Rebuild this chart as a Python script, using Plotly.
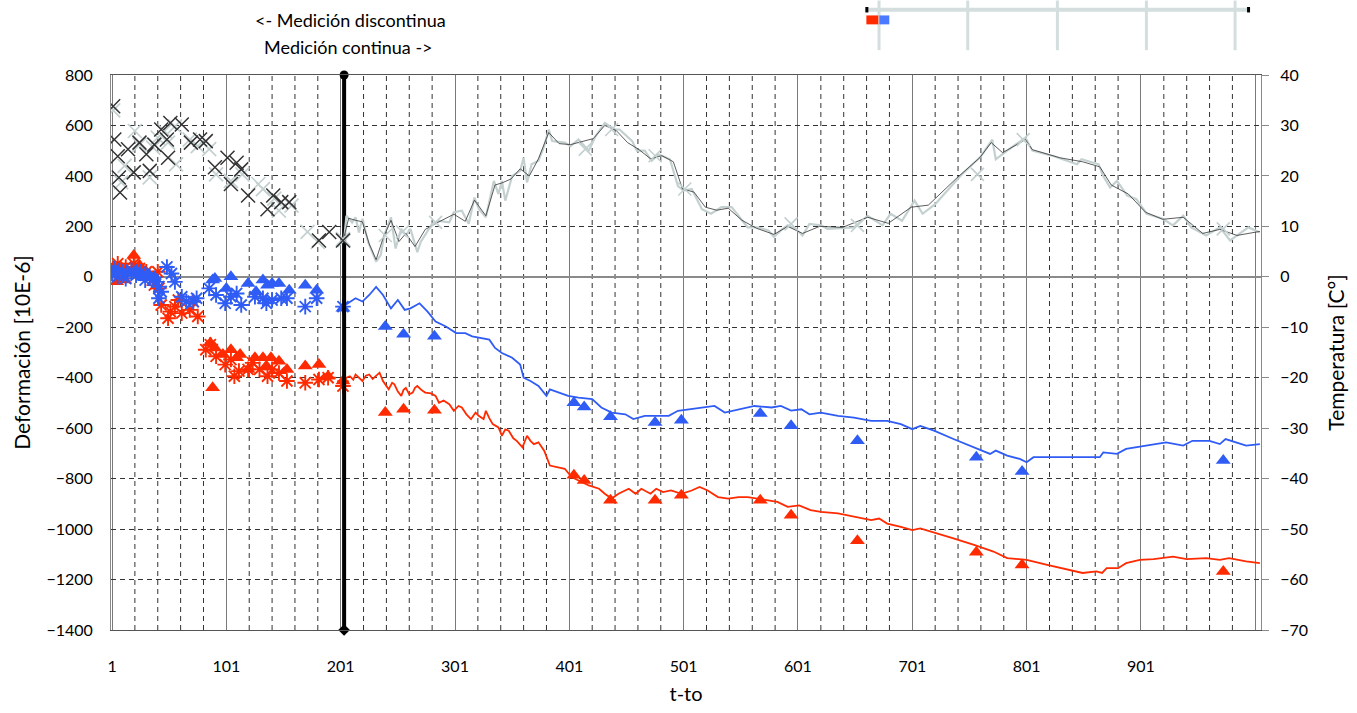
import plotly.graph_objects as go

# ---------------- DATA ----------------
x_tickvals = [1, 101, 201, 301, 401, 501, 601, 701, 801, 901, 1001]
x_ticktext = ["1", "101", "201", "301", "401", "501", "601", "701", "801", "901", ""]
x_minor_grid = [v for v in range(21, 1006, 20) if (v - 1) % 100 != 0]
vline_x = 204

# discontinuous temperature (two sensors)
temp_disc_dark_x = [2, 3, 6, 7, 8, 15, 20, 25, 31, 34, 38, 44, 49, 50, 52, 62, 70, 78, 83, 91,
                    102, 105, 110, 114, 120, 137, 142, 149, 156, 182, 191, 203]
temp_disc_dark_y = [33.8, 27.2, 23.9, 19.7, 16.7, 25.3, 20.7, 26.6, 24.3, 21.0, 26.2, 29.2, 27.2, 23.6, 30.5,
                    30.2, 26.6, 27.2, 26.9, 21.7, 23.6, 18.4, 22.6, 21.3, 16.1, 13.4, 16.1, 14.8, 14.8, 7.2, 8.9, 7.2]
temp_disc_light_x = [2, 9, 12, 21, 25, 34, 37, 41, 47, 50, 56, 57, 69, 76, 86, 92, 105, 115, 129, 133,
                     143, 147, 158, 172, 181, 203]
temp_disc_light_y = [33.0, 18.7, 22.0, 28.9, 26.2, 19.7, 25.6, 27.6, 28.9, 26.6, 29.8, 22.3, 27.2, 25.9, 25.3,
                     20.3, 19.0, 20.3, 18.4, 17.4, 15.5, 13.1, 14.1, 8.9, 6.9, 7.5]

# continuous temperature (light sensor)
temp_light_x = [204, 206, 211, 214, 217, 220, 225, 232, 236, 239, 245, 249, 254, 258, 262, 268, 271, 281, 287,
                296, 300, 307, 313, 318, 322, 328, 335, 339, 342, 345, 351, 358, 361, 364, 368, 374, 379, 383,
                386, 397, 402, 409, 418, 424, 432, 441, 445, 456, 460, 467, 473, 479, 489, 496, 501, 508, 517,
                525, 534, 543, 551, 557, 566, 575, 580, 586, 592, 599, 605, 611, 621, 627, 650, 662, 675, 682,
                692, 703, 710, 721, 743, 761, 771, 774, 784, 800, 806, 825, 845, 849, 864, 868, 874, 880, 889,
                897, 906, 920, 929, 938, 945, 958, 970, 979, 987, 995, 1005]
temp_light_y = [7.2, 12.1, 10.8, 11.8, 8.8, 11.5, 6.9, 3.0, 4.3, 8.2, 11.8, 5.6, 9.5, 8.2, 9.5, 4.9, 6.9, 10.5, 11.1,
                10.8, 12.8, 13.1, 10.5, 15.7, 13.4, 11.8, 19.0, 16.4, 19.0, 15.1, 20.0, 21.0, 23.6, 18.7, 22.3, 23.0,
                25.9, 29.2, 26.9, 26.6, 25.9, 27.2, 25.0, 27.9, 30.5, 29.2, 29.2, 26.9, 25.0, 25.0, 23.0, 24.3, 23.3,
                18.0, 17.1, 17.4, 13.4, 12.5, 13.8, 13.8, 11.5, 9.8, 9.8, 9.2, 7.9, 9.2, 10.2, 9.5, 8.2, 10.5, 10.2,
                9.5, 9.8, 12.1, 10.2, 12.5, 11.1, 15.1, 12.5, 14.4, 20.0, 23.9, 27.2, 23.3, 25.0, 27.6, 25.0, 23.9,
                22.3, 23.3, 22.3, 20.0, 17.7, 19.0, 16.1, 15.4, 12.5, 11.5, 10.2, 12.1, 9.8, 8.2, 9.8, 7.2, 8.5,
                9.8, 8.8]

# continuous temperature (dark sensor)
temp_dark_x = [204, 208, 214, 220, 226, 232, 238, 245, 252, 258, 266, 275, 287, 300, 310, 318, 328, 336, 342,
               350, 358, 366, 374, 383, 392, 402, 412, 422, 432, 442, 452, 462, 472, 482, 492, 500, 510, 520, 530,
               540, 552, 565, 580, 592, 605, 620, 640, 662, 680, 700, 715, 740, 760, 770, 780, 800, 806, 830, 850,
               865, 875, 890, 905, 920, 938, 955, 970, 985, 1005]
temp_dark_y = [8.0, 11.6, 11.2, 10.9, 6.5, 3.4, 7.6, 11.2, 7.0, 8.6, 6.0, 9.4, 10.9, 12.4, 11.0, 15.2, 12.1, 18.2,
               18.6, 19.4, 21.4, 20.0, 23.4, 28.6, 26.4, 26.2, 26.8, 27.4, 30.0, 29.0, 26.6, 25.2, 23.4, 24.0, 22.8,
               17.4, 16.8, 13.8, 13.2, 13.6, 11.2, 9.6, 8.4, 10.0, 8.6, 10.0, 9.8, 11.8, 10.6, 13.8, 14.2, 19.6, 23.6,
               26.6, 24.6, 27.2, 25.2, 23.6, 22.8, 21.8, 18.2, 16.4, 12.8, 11.4, 11.8, 8.6, 9.4, 8.2, 9.0]

# temperature marks on the continuous period
temp_cont_mark_x = [204, 240, 255, 284, 415, 438, 476, 502, 595, 653, 758, 798, 973]
temp_cont_mark_y = [7.2, 8.2, 8.9, 10.8, 25.3, 29.2, 24.0, 17.4, 10.5, 10.2, 20.3, 27.2, 9.5]

# strain, blue gauge
blue_ast_x = [1, 3, 6, 10, 13, 18, 22, 26, 30, 34, 37, 40, 42, 44, 49, 53, 56, 42, 62, 66, 72, 75,
              86, 92, 100, 105, 110, 114, 126, 133, 136, 141, 149, 154, 170, 180, 203]
blue_ast_y = [13, 33, 0, 20, -7, 26, 6, 20, -13, 0, -13, -20, -85, -59, 39, 13, -20, -39, -79, -98, -98, -85,
              -46, -72, -105, -79, -66, -112, -79, -85, -105, -92, -85, -85, -118, -85, -118]
blue_tri_x = [2, 7, 16, 22, 28, 32, 38, 89, 91, 105, 101, 120, 133, 137, 141, 147, 127, 156, 170, 180, 203,
              240, 256, 283, 405, 414, 437, 476, 499, 568, 595, 653, 757, 797, 973]
blue_tri_y = [6, 20, 13, 26, 0, 13, 0, -13, -7, 0, -46, -26, -13, -33, -26, -26, -59, -53, -33, -53, -125,
              -197, -228, -236, -499, -516, -555, -577, -569, -542, -590, -650, -715, -772, -728]
blue_line_x = [203, 209, 214, 220, 226, 232, 238, 245, 251, 257, 262, 270, 277, 284, 293, 302, 310, 316, 325,
               331, 336, 342, 351, 358, 361, 367, 374, 381, 384, 392, 400, 409, 421, 429, 438, 450, 457, 467, 479,
               488, 496, 508, 520, 528, 537, 549, 563, 578, 586, 595, 604, 611, 621, 636, 650, 665, 679, 691, 701,
               708, 720, 737, 755, 769, 774, 784, 795, 801, 807, 824, 842, 865, 868, 880, 888, 906, 923, 938, 946,
               961, 970, 975, 984, 993, 1005]
blue_line_y = [-118, -98, -85, -98, -72, -40, -72, -125, -92, -131, -125, -105, -138, -177, -197, -223, -223, -236,
               -243, -249, -282, -302, -321, -348, -400, -413, -433, -472, -446, -459, -472, -479, -485, -518, -538,
               -545, -564, -551, -551, -551, -531, -525, -518, -512, -538, -525, -512, -518, -512, -530, -525, -545,
               -538, -551, -558, -571, -571, -584, -604, -591, -610, -643, -676, -702, -689, -709, -722, -735, -715,
               -715, -715, -715, -696, -702, -682, -669, -656, -669, -650, -650, -663, -643, -656, -669, -663]

# strain, red gauge
red_ast_x = [2, 6, 9, 13, 20, 25, 31, 37, 41, 42, 44, 38, 50, 52, 56, 59, 62, 69, 72, 76,
             83, 87, 92, 100, 105, 108, 112, 120, 124, 130, 137, 141, 147, 154, 170, 182, 190, 203]
red_ast_y = [33, 52, 20, 39, 52, 33, 20, -7, 20, -46, -112, -33, -164, -138, -118, -92, -144, -131, -98, -157,
             -289, -269, -315, -348, -328, -394, -374, -367, -341, -367, -394, -367, -381, -413, -420, -407, -400, -433]
red_tri_x = [5, 12, 20, 25, 30, 87, 91, 89, 98, 105, 110, 113, 120, 126, 133, 136, 140, 147, 154, 170, 182, 190, 203,
             240, 256, 283, 405, 414, 437, 476, 499, 568, 595, 653, 757, 797, 973]
red_tri_y = [-20, -13, 85, 46, 20, -262, -282, -440, -308, -289, -321, -308, -367, -321, -321, -354, -321, -335, -367,
             -354, -348, -394, -413,
             -538, -525, -529, -787, -807, -886, -886, -866, -886, -945, -1046, -1092, -1142, -1168]
red_line_x = [203, 206, 209, 212, 214, 217, 220, 223, 226, 229, 232, 235, 238, 241, 243, 246, 248, 251, 254, 256,
              258, 261, 264, 266, 268, 272, 275, 280, 284, 287, 291, 296, 300, 304, 307, 311, 315,
              319, 322, 326, 328, 331, 334, 339, 342, 345, 348, 352, 355, 360, 364, 367, 370, 374, 379, 384, 390,
              397, 403, 412, 418, 427,
              432, 438, 444, 453, 459, 464, 472, 477, 483, 490, 499, 508, 515, 522, 531, 540, 549, 557, 566, 575,
              583, 592, 602, 612, 621, 636, 650, 665, 672, 679, 691, 701, 708, 723, 737, 755, 772, 784, 801, 819,
              839, 850, 862, 867, 871, 881, 888, 900, 912, 929, 941, 958, 970, 978, 993, 1005]
red_line_y = [-413, -400, -394, -408, -387, -402, -413, -392, -387, -405, -394, -380, -413, -430, -446, -420, -426,
              -455, -472, -448, -440, -466, -459, -440, -433, -450, -459, -462, -472, -499, -490, -505,
              -531, -512, -518, -545, -564, -538, -552, -564, -531, -560, -584, -597, -630, -605, -610, -640, -650,
              -676, -630, -650, -663, -656, -689, -748,
              -755, -761, -794, -814, -827, -840, -860, -879, -860, -840, -860, -840, -860, -840, -853, -847, -860,
              -847, -833, -847, -873, -879, -873, -873, -879, -886, -892, -912, -906, -925, -932, -938, -951, -964,
              -958, -978, -991, -1004, -997, -1017, -1037, -1063, -1089, -1115, -1122, -1142, -1161, -1174, -1168,
              -1174, -1155, -1155, -1135, -1122, -1119, -1109, -1119, -1115, -1122, -1115, -1128, -1135]

# ---------------- STYLE ----------------
RED = "#ff2a00"
BLUE = "#2f5cf5"
DARK = "#333333"
LIGHT = "#c4d0d0"
FONT = "Lato"

fig = go.Figure()

# temperature continuous lines
fig.add_trace(go.Scatter(x=temp_light_x, y=temp_light_y, mode="lines", yaxis="y2",
                         line=dict(color=LIGHT, width=2.2)))
fig.add_trace(go.Scatter(x=temp_dark_x, y=temp_dark_y, mode="lines", yaxis="y2",
                         line=dict(color=DARK, width=0.8)))
fig.add_trace(go.Scatter(x=temp_cont_mark_x, y=temp_cont_mark_y, mode="markers", yaxis="y2",
                         marker=dict(symbol="x-thin-open", size=13, color=LIGHT, line=dict(width=1.6, color=LIGHT))))
# temperature discontinuous marks
fig.add_trace(go.Scatter(x=temp_disc_light_x, y=temp_disc_light_y, mode="markers", yaxis="y2",
                         marker=dict(symbol="x-thin-open", size=14, color=LIGHT, line=dict(width=1.7, color=LIGHT))))
fig.add_trace(go.Scatter(x=temp_disc_dark_x, y=temp_disc_dark_y, mode="markers", yaxis="y2",
                         marker=dict(symbol="x-thin-open", size=14, color=DARK, line=dict(width=1.5, color=DARK))))

# strain lines
fig.add_trace(go.Scatter(x=blue_line_x, y=blue_line_y, mode="lines", line=dict(color=BLUE, width=1.8)))
fig.add_trace(go.Scatter(x=red_line_x, y=red_line_y, mode="lines", line=dict(color=RED, width=1.8)))

# strain marks
fig.add_trace(go.Scatter(x=red_ast_x, y=red_ast_y, mode="markers",
                         marker=dict(symbol="asterisk-open", size=13, color=RED, line=dict(width=1.9, color=RED))))
fig.add_trace(go.Scatter(x=red_tri_x, y=red_tri_y, mode="markers",
                         marker=dict(symbol="triangle-up", size=13, color=RED, line=dict(width=0))))
fig.add_trace(go.Scatter(x=blue_ast_x, y=blue_ast_y, mode="markers",
                         marker=dict(symbol="asterisk-open", size=13, color=BLUE, line=dict(width=1.9, color=BLUE))))
fig.add_trace(go.Scatter(x=blue_tri_x, y=blue_tri_y, mode="markers",
                         marker=dict(symbol="triangle-up", size=13, color=BLUE, line=dict(width=0))))

# separator between discontinuous / continuous measurement
fig.add_trace(go.Scatter(x=[vline_x, vline_x], y=[800, -1400], mode="lines+markers", cliponaxis=False,
                         line=dict(color="black", width=4),
                         marker=dict(symbol=["circle", "diamond"], size=9, color="black")))

# ---------------- LAYOUT ----------------
shapes = []
# dashed minor vertical grid
for gx in x_minor_grid:
    shapes.append(dict(type="line", xref="x", yref="paper", x0=gx, x1=gx, y0=0, y1=1, layer="below",
                       line=dict(color="#333333", width=1, dash="5px,4px")))
# decorative scroll-like bar top right (paper coords)
W, H, L, B = 1154.0, 559.0, 111.0, 634.0
def px(xp):
    return (xp - L) / W
def py(yp):
    return (B - yp) / H
for vx in [881.7, 970.7, 1060.7, 1150, 1239]:
    shapes.append(dict(type="line", xref="paper", yref="paper", x0=px(vx), x1=px(vx), y0=py(0), y1=py(50),
                       line=dict(color="#d4dede", width=3)))
shapes.append(dict(type="line", xref="paper", yref="paper", x0=px(868), x1=px(1254), y0=py(9.3), y1=py(9.3),
                   line=dict(color="#d4dede", width=4)))
shapes.append(dict(type="rect", xref="paper", yref="paper", x0=px(868), x1=px(871), y0=py(12), y1=py(6.5),
                   line=dict(width=0), fillcolor="black"))
shapes.append(dict(type="rect", xref="paper", yref="paper", x0=px(1251), x1=px(1254), y0=py(12), y1=py(6.5),
                   line=dict(width=0), fillcolor="black"))
shapes.append(dict(type="rect", xref="paper", yref="paper", x0=px(869), x1=px(881), y0=py(24), y1=py(15),
                   line=dict(width=0), fillcolor="#ff2a00"))
shapes.append(dict(type="rect", xref="paper", yref="paper", x0=px(882), x1=px(892), y0=py(24), y1=py(15),
                   line=dict(width=0), fillcolor="#4a7aff"))

fig.update_layout(
    width=1357, height=713,
    margin=dict(l=111, r=92, t=75, b=79),
    paper_bgcolor="white", plot_bgcolor="white",
    showlegend=False,
    font=dict(family=FONT, size=16, color="black"),
    shapes=shapes,
    xaxis=dict(
        range=[0.1, 1006], tickmode="array", tickvals=x_tickvals, ticktext=x_ticktext,
        showgrid=True, gridcolor="#7a7a7a", gridwidth=1,
        showline=True, linecolor="#555555", linewidth=1, mirror=True,
        ticks="", ticklabelstandoff=22, zeroline=False,
        title=dict(text="t-to", font=dict(size=20), standoff=12),
    ),
    yaxis=dict(
        range=[-1400, 800], dtick=200, tick0=0,
        showgrid=True, gridcolor="#333333", griddash="5px,4px", gridwidth=1,
        zeroline=True, zerolinecolor="#8a8a8a", zerolinewidth=1.5,
        showline=True, linecolor="#8a8a8a", linewidth=1,
        ticks="", ticklabelstandoff=14,
        title=dict(text="Deformación [10E-6]", font=dict(size=21), standoff=10),
    ),
    yaxis2=dict(
        range=[-70, 40], dtick=10, tick0=0, overlaying="y", side="right",
        showgrid=False, zeroline=False,
        showline=True, linecolor="#8a8a8a", linewidth=1,
        ticks="outside", ticklen=7, tickcolor="#8a8a8a",
        ticklabelstandoff=8,
        title=dict(text="Temperatura [C°]", font=dict(size=21), standoff=22),
    ),
    annotations=[
        dict(text="<- Medición discontinua", xref="paper", yref="paper", x=px(351), y=py(20),
             showarrow=False, font=dict(size=18), xanchor="center", yanchor="middle"),
        dict(text="Medición continua ->", xref="paper", yref="paper", x=px(349), y=py(47),
             showarrow=False, font=dict(size=18), xanchor="center", yanchor="middle"),
    ],
)

fig.write_html("out.html")
